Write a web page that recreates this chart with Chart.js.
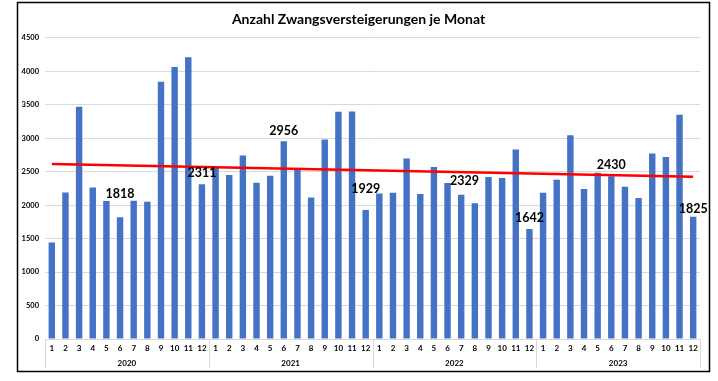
<!DOCTYPE html>
<html><head><meta charset="utf-8">
<script src="https://cdn.jsdelivr.net/npm/chart.js@4.4.1/dist/chart.umd.min.js"></script>
<style>html,body{margin:0;padding:0;background:#fff;}#wrap{width:718px;height:381px;position:relative;}</style>
</head><body><div id="wrap"><canvas id="c" width="718" height="381"></canvas></div>
<script>
const years = ['2020', '2021', '2022', '2023'];
const months = ['1','2','3','4','5','6','7','8','9','10','11','12'];
const values2020 = [1440, 2190, 3470, 2265, 2060, 1818, 2065, 2050, 3845, 4065, 4210, 2311];
const values2021 = [2555, 2450, 2740, 2335, 2440, 2956, 2535, 2115, 2980, 3395, 3400, 1929];
const values2022 = [2175, 2185, 2695, 2165, 2570, 2329, 2155, 2030, 2420, 2405, 2830, 1642];
const values2023 = [2185, 2380, 3045, 2240, 2485, 2430, 2275, 2105, 2770, 2720, 3350, 1825];
const trendStart = 2615;
const trendEnd = 2425;
const yTicks = [0, 500, 1000, 1500, 2000, 2500, 3000, 3500, 4000, 4500];
const labelledBars = [5, 11, 17, 23, 29, 35, 41, 47];

const allValues = [].concat(values2020, values2021, values2022, values2023);
const categoryLabels = [].concat(months, months, months, months);
const trend = allValues.map(() => null);
trend[0] = trendStart;
trend[trend.length - 1] = trendEnd;

// label placement (offset of label centre relative to bar top), not data
const labelPlacement = {5:[0,-23], 11:[0,-11], 17:[0,-10], 23:[0,-21], 29:[17,-2], 35:[0,-11], 41:[0,-11], 47:[0,-8]};

Chart.defaults.font.family = 'Lato';

const decor = {
  id: 'decor',
  afterDatasetsDraw(chart) {
    const ctx = chart.ctx;
    const meta = chart.getDatasetMeta(0);
    ctx.save();
    ctx.font = 'bold 12.5px Lato';
    ctx.fillStyle = '#000';
    ctx.textAlign = 'center';
    ctx.textBaseline = 'middle';
    labelledBars.forEach(i => {
      const el = meta.data[i];
      const off = labelPlacement[i] || [0, -10];
      ctx.fillText(String(allValues[i]), el.x + off[0], el.y + off[1]);
    });
    ctx.restore();
  },
  afterDraw(chart) {
    const {ctx, scales, chartArea} = chart;
    const x = scales.x, x2 = scales.x2;
    ctx.save();
    ctx.strokeStyle = '#d9d9d9';
    ctx.lineWidth = 1;
    const n = allValues.length;
    for (let i = 0; i <= n; i += 12) {
      const px = Math.round(x.left + i * (x.width / n)) + 0.5;
      ctx.beginPath();
      ctx.moveTo(px, chartArea.bottom);
      ctx.lineTo(px, x2.bottom);
      ctx.stroke();
    }
    ctx.strokeStyle = '#000';
    ctx.lineWidth = 1.5;
    ctx.strokeRect(17.5, 2.5, 692, 369);
    ctx.restore();
  }
};

new Chart(document.getElementById('c'), {
  data: {
    labels: categoryLabels,
    datasets: [
      { type: 'bar', data: allValues, backgroundColor: '#4472C4', barPercentage: 0.47, categoryPercentage: 1.0, order: 2, xAxisID: 'x', yAxisID: 'y' },
      { type: 'line', data: trend, spanGaps: true, borderColor: '#ff0000', borderWidth: 2.5, pointRadius: 0, fill: false, order: 1, xAxisID: 'x', yAxisID: 'y' }
    ]
  },
  options: {
    responsive: false,
    animation: false,
    layout: { padding: { top: 10, left: 17, right: 18, bottom: 13 } },
    plugins: {
      legend: { display: false },
      tooltip: { enabled: false },
      title: { display: true, text: 'Anzahl Zwangsversteigerungen je Monat', color: '#000', font: { family: 'Lato', size: 14, weight: 'bold' }, padding: { top: 1, bottom: 10 } }
    },
    scales: {
      y: {
        min: 0, max: 4500,
        afterBuildTicks: s => { s.ticks = yTicks.map(v => ({ value: v })); },
        ticks: { color: '#000', font: { size: 7.5, weight: 'bold' }, padding: 6, callback: v => String(v) },
        grid: { color: '#d9d9d9', drawTicks: false },
        border: { display: false },
        afterFit: s => { s.width = 28; }
      },
      x: {
        offset: true,
        grid: { display: false, drawTicks: false },
        border: { display: false },
        ticks: { color: '#000', font: { size: 8, weight: 'bold' }, padding: 5, maxRotation: 0, autoSkip: false },
        afterFit: s => { s.height = 14; }
      },
      x2: {
        type: 'category',
        labels: years,
        position: 'bottom',
        offset: true,
        grid: { display: false, drawTicks: false },
        border: { display: false },
        ticks: { color: '#000', font: { size: 8, weight: 'bold' }, padding: 6, maxRotation: 0 },
        afterFit: s => { s.height = 15; }
      }
    }
  },
  plugins: [decor]
});
</script>
</body></html>
